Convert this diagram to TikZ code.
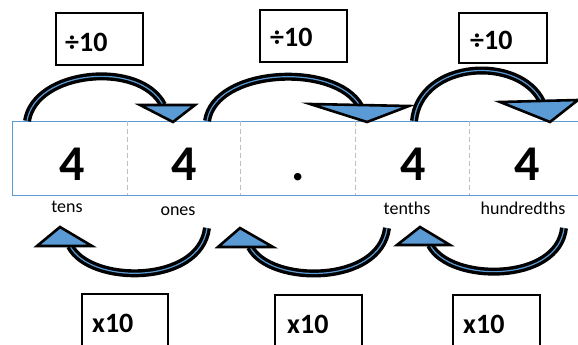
\documentclass[tikz,border=0pt]{standalone}
\usepackage{fontspec}
\setmainfont{Carlito}
\definecolor{arrowblue}{HTML}{5B9BD5}
\definecolor{tableblue}{HTML}{5B9BD5}
\definecolor{divgray}{HTML}{BFBFBF}
\begin{document}
\begin{tikzpicture}[x=1pt,y=-1pt,
 opbox/.style={draw=black,line width=2.5pt},
 optext/.style={font=\fontsize{28}{28}\selectfont\bfseries, anchor=base west, inner sep=0},
 digit/.style={font=\fontsize{50}{50}\selectfont\bfseries, anchor=base, inner sep=0},
 place/.style={font=\fontsize{18}{18}\selectfont, anchor=base, inner sep=0},
 abody/.style={draw=black, line width=8pt},
 ainner/.style={draw=arrowblue, line width=1.2pt},
 ahead/.style={fill=arrowblue, draw=black, line width=2.6pt, line join=miter},
 divider/.style={draw=divgray, line width=0.8pt, dash pattern=on 5pt off 3pt},
]
\clip (0,0) rectangle (578,345);
\fill[white] (0,0) rectangle (578,345);

% place-value table
\draw[tableblue, line width=1pt] (590,121) -- (12,121) -- (12,195) -- (590,195);
\foreach \x in {127,240,355,469} \draw[divider] (\x,121) -- (\x,195);

\node[digit] (d1) at (72,180) {4};
\node[digit] (d2) at (184,180) {4};
\node[digit] (dp) at (298,180) {.};
\node[digit] (d3) at (413,180) {4};
\node[digit] (d4) at (527,180) {4};

\node[place] (l1) at (67,212) {tens};
\node[place] (l2) at (178,215) {ones};
\node[place] (l3) at (407,214) {tenths};
\node[place] (l4) at (523,214) {hundredths};

% top boxes
\draw[opbox] (56,13) rectangle (143,65);
\node[optext] (q1) at (65,52) {÷10};
\draw[opbox] (260,10) rectangle (347,62);
\node[optext] (q2) at (270,47) {÷10};
\draw[opbox] (459,13) rectangle (547,63);
\node[optext] (q3) at (470,50) {÷10};

% bottom boxes
\draw[opbox] (82,294) rectangle (168,350);
\node[optext] (m1) at (92,332) {x10};
\draw[opbox] (275,295) rectangle (362,350);
\node[optext] (m2) at (287,333) {x10};
\draw[opbox] (453,295) rectangle (540,350);
\node[optext] (m3) at (463,333) {x10};

% curved arrows
\foreach \p in {{(27,121) .. controls (35,70) and (140,60) .. (163,105)},
                {(207,121) .. controls (215,68) and (335,62) .. (360,106)},
                {(414,121) .. controls (420,60) and (520,55) .. (542,102)},
                {(207,228) .. controls (200,285) and (90,285) .. (70,246)},
                {(387,228) .. controls (380,285) and (270,285) .. (250,247)},
                {(564,228) .. controls (558,283) and (450,283) .. (430,245)}}
{
  \draw[abody] \p;
  \draw[ainner] \p;
}
\filldraw[ahead] (140,105) -- (195,105) -- (173,122) -- cycle;
\filldraw[ahead] (310,104) -- (409,106) -- (367,122) -- cycle;
\filldraw[ahead] (500,102) -- (578,100) -- (550,122) -- cycle;
\filldraw[ahead] (37,246) -- (92,246) -- (60,227) -- cycle;
\filldraw[ahead] (218,247) -- (273,247) -- (240,228) -- cycle;
\filldraw[ahead] (397,245) -- (450,245) -- (420,227) -- cycle;
\end{tikzpicture}
\end{document}
